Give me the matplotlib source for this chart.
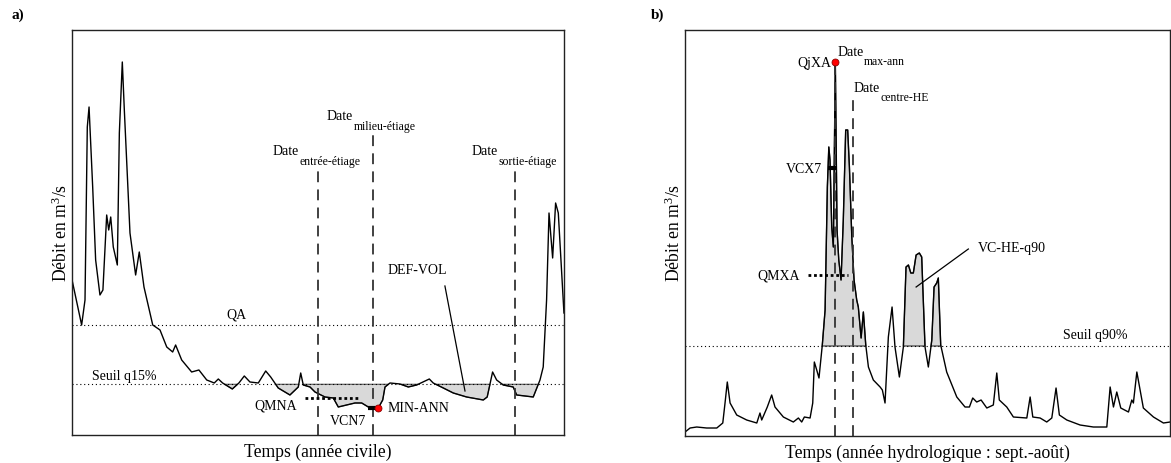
import matplotlib.pyplot as plt
import numpy as np

plt.rcParams['font.family'] = 'Liberation Serif'
plt.rcParams['mathtext.fontset'] = 'custom'
plt.rcParams['mathtext.rm'] = 'Liberation Serif'
plt.rcParams['mathtext.it'] = 'Liberation Serif:italic'

# a) civil year (day of year, discharge)
day_a = [0, 6.8, 9.3, 11.0, 12.3, 15.0, 17.2, 20.4, 22.6, 25.4, 26.9, 28.4, 30.3, 33.3,
         34.8, 37.0, 38.5, 42.7, 46.9, 49.6, 53.1, 59.6, 65.0, 70.0, 74.4, 76.6, 81.1,
         88.5, 93.9, 99.7, 105.3, 108.3, 111.5, 118.7, 123.6, 127.6, 131.8, 138.0, 143.5,
         147.2, 152.8, 161.5, 167.7, 169.5, 171.4, 176.4, 180.1, 187.5, 193.7, 197.4,
         203.6, 209.8, 214.8, 219.7, 227.1, 230.4, 232.1, 235.8, 243.2, 249.4, 255.6,
         265.0, 267.9, 275.4, 282.8, 292.7, 305.1, 308.0, 312.0, 315.0, 319.9, 327.3,
         329.9, 342.2, 347.2, 349.6, 352.1, 353.9, 356.6, 358.8, 360.8, 365.0]
q_a = [15.3, 11.0, 13.5, 30.8, 32.8, 24.8, 17.5, 14.0, 14.5, 22.0, 20.5, 21.8, 18.8, 17.0,
       30.2, 37.3, 32.5, 20.2, 16.0, 18.3, 14.8, 11.0, 10.5, 8.8, 8.3, 9.0, 7.5,
       6.3, 6.5, 5.5, 5.2, 5.6, 5.2, 4.6, 5.2, 5.9, 5.3, 5.2, 6.4,
       5.8, 4.7, 4.0, 4.8, 6.2, 5.0, 4.8, 4.3, 3.8, 3.7, 2.8,
       3.0, 3.2, 3.2, 2.8, 2.7, 3.5, 4.8, 5.2, 5.1, 4.8, 5.0,
       5.6, 5.2, 4.7, 4.2, 3.8, 3.5, 3.8, 6.3, 5.5, 5.0, 4.8,
       4.0, 3.8, 5.5, 6.8, 13.5, 22.2, 17.7, 23.2, 22.2, 12.2]
qa = 11.0
q15 = 5.07
qmna = 3.7
qmna_days = [173.0, 213.5]
vcn7 = 2.7
vcn7_days = [219.7, 227.1]
min_ann = [227.1, 2.7]
date_entree = 182.5
date_milieu = 223.4
date_sortie = 328.6

# b) hydrological year sept.-aout
day_b = [0, 3.8, 8.8, 16.3, 23.9, 28.4, 30.1, 31.8, 33.9, 38.9, 46.4, 54.0, 56.4, 57.7,
         61.9, 65.2, 67.7, 74.0, 81.5, 85.3, 87.8, 89.8, 94.1, 96.1, 97.3, 99.1, 100.8,
         103.3, 105.4, 107.1, 108.2, 109.1, 110.4, 111.6, 113.1, 114.4, 115.7, 117.4,
         119.1, 120.9, 122.4, 123.7, 125.5, 127.2, 129.2, 130.4, 132.5, 134.2, 136.0,
         138.0, 141.7, 146.8, 148.5, 150.5, 153.0, 155.8, 158.0, 161.3, 164.3, 166.3,
         168.1, 169.9, 171.8, 173.9, 176.3, 178.1, 180.6, 183.1, 185.7, 187.4, 189.4,
         190.6, 192.4, 196.9, 204.5, 210.7, 214.0, 216.5, 219.5, 222.8, 227.1, 232.0,
         234.6, 236.5, 242.1, 247.1, 257.2, 259.7, 261.7, 267.2, 272.2, 276.0, 279.2,
         281.7, 287.3, 297.3, 307.3, 317.4, 319.9, 322.4, 324.9, 327.9, 333.7, 336.2,
         337.4, 340.0, 344.9, 352.5, 360.0, 365.0]
q_b = [0.4, 0.8, 0.9, 0.8, 0.8, 1.3, 3.3, 5.4, 3.3, 2.1, 1.6, 1.3, 2.3, 1.6,
       2.9, 4.1, 2.9, 1.9, 1.4, 1.8, 1.4, 1.9, 1.8, 3.3, 7.4, 6.6, 5.8,
       9.1, 12.6, 24.9, 28.9, 27.6, 20.9, 18.9, 37.4, 20.6, 17.6, 15.6,
       21.6, 30.6, 30.6, 26.9, 19.9, 15.6, 13.6, 12.9, 9.8, 12.4, 9.1,
       6.9, 5.6, 4.9, 4.6, 3.3, 9.9, 12.9, 8.9, 5.9, 8.9, 16.9,
       17.1, 16.3, 16.3, 18.1, 18.3, 17.9, 8.9, 6.9, 9.6, 14.9, 15.3,
       15.8, 9.1, 6.4, 3.9, 2.9, 2.9, 3.8, 3.4, 3.6, 2.8, 3.1,
       6.3, 3.6, 2.9, 1.9, 1.8, 3.9, 1.9, 1.8, 1.4, 1.8, 4.8,
       2.1, 1.6, 1.1, 0.9, 0.9, 4.9, 2.9, 4.4, 2.8, 2.4, 3.6,
       3.3, 6.4, 2.8, 1.9, 1.3, 1.4]
q90 = 9.0
he_periods = [[103.0, 137.0], [164.0, 193.0]]
qjxa = [113.1, 37.4]
date_centre = 126.4
vcx7 = 26.8
vcx7_days = [107.9, 114.2]
qmxa = 16.1
qmxa_days = [92.8, 122.9]

txt_size = 10
lab_size = 12.7
fill_col = '#d9d9d9'
dash_col = '#333333'


def date_label(ax, x, y, sub):
    t = ax.text(x, y, 'Date', fontsize=txt_size, ha='left', va='center')
    ax.annotate(sub, xy=(1, 0.22), xycoords=t, xytext=(0.5, 0), textcoords='offset points',
                ha='left', va='top', fontsize=8.5)


def frame(ax, xlabel):
    ax.set_xticks([])
    ax.set_yticks([])
    for s in ax.spines.values():
        s.set_color('#222222')
        s.set_linewidth(1.0)
    ax.set_xlabel(xlabel, fontsize=lab_size, labelpad=6)
    ax.set_ylabel(r'Débit en m$^{3}$/s', fontsize=lab_size, labelpad=1)


fig = plt.figure(figsize=(11.71, 4.63), dpi=100)

# ---- panel a
ax1 = fig.add_axes([0.0619, 0.0605, 0.4197, 0.8747])
x = np.array(day_a)
y = np.array(q_a)
ax1.fill_between(x, y, q15, where=y < q15, interpolate=True, facecolor=fill_col,
                 edgecolor='#555555', linewidth=0.8)
ax1.axhline(qa, color='k', ls=(0, (1, 2.5)), lw=0.8)
ax1.axhline(q15, color='k', ls=(0, (1, 2.5)), lw=0.8)
ax1.plot(x, y, color='k', lw=1.0)
ax1.plot([date_entree, date_entree], [0, 27.0], color=dash_col, ls=(0, (6, 4)), lw=1.3)
ax1.plot([date_milieu, date_milieu], [0, 30.5], color=dash_col, ls=(0, (6, 4)), lw=1.3)
ax1.plot([date_sortie, date_sortie], [0, 27.0], color=dash_col, ls=(0, (6, 4)), lw=1.3)
ax1.plot(qmna_days, [qmna, qmna], color='k', ls=(0, (1, 1)), lw=2.0)
ax1.plot(vcn7_days, [vcn7, vcn7], color='k', lw=3.0, solid_capstyle='butt')
ax1.plot(min_ann[0], min_ann[1], 'o', color='red', mec='#880000', ms=5, mew=0.6)

date_label(ax1, 148.7, 28.3, 'entrée-étiage')
date_label(ax1, 189.0, 31.8, 'milieu-étiage')
date_label(ax1, 296.4, 28.3, 'sortie-étiage')
ax1.text(122, 11.3, 'QA', fontsize=txt_size, ha='center', va='bottom')
ax1.text(14.5, 5.8, 'Seuil q15%', fontsize=txt_size, ha='left', va='center')
ax1.text(166.7, 2.9, 'QMNA', fontsize=txt_size, ha='right', va='center')
ax1.text(204.6, 1.3, 'VCN7', fontsize=txt_size, ha='center', va='center')
ax1.text(234.0, 2.6, 'MIN-ANN', fontsize=txt_size, ha='left', va='center')
ax1.text(234.3, 16.4, 'DEF-VOL', fontsize=txt_size, ha='left', va='center')
ax1.plot([276.6, 291.5], [14.9, 4.4], color='k', lw=0.9)
ax1.set_xlim(0, 365)
ax1.set_ylim(0, 40.5)
frame(ax1, 'Temps (année civile)')

# ---- panel b
ax2 = fig.add_axes([0.585, 0.0583, 0.4142, 0.8769])
x = np.array(day_b)
y = np.array(q_b)
in_he = np.zeros(len(x), dtype=bool)
for p in he_periods:
    in_he |= (x >= p[0]) & (x <= p[1])
ax2.fill_between(x, y, q90, where=(y > q90) & in_he, interpolate=True, facecolor=fill_col,
                 edgecolor='#444444', linewidth=0.9)
ax2.axhline(q90, color='k', ls=(0, (1, 2.5)), lw=0.8)
ax2.plot(x, y, color='k', lw=1.0)
ax2.plot([qjxa[0], qjxa[0]], [0, qjxa[1]], color=dash_col, ls=(0, (6, 4)), lw=1.3)
ax2.plot([date_centre, date_centre], [0, 34.0], color=dash_col, ls=(0, (6, 4)), lw=1.3)
ax2.plot(vcx7_days, [vcx7, vcx7], color='k', lw=3.0, solid_capstyle='butt')
ax2.plot(qmxa_days, [qmxa, qmxa], color='k', ls=(0, (1, 1)), lw=2.0)
ax2.plot(qjxa[0], qjxa[1], 'o', color='red', mec='#880000', ms=5, mew=0.6, zorder=5)

ax2.text(110.0, 37.3, 'QjXA', fontsize=txt_size, ha='right', va='center')
date_label(ax2, 114.4, 38.4, 'max-ann')
date_label(ax2, 126.7, 34.8, 'centre-HE')
ax2.text(102.9, 26.7, 'VCX7', fontsize=txt_size, ha='right', va='center')
ax2.text(86.5, 16.0, 'QMXA', fontsize=txt_size, ha='right', va='center')
ax2.text(220.7, 18.8, 'VC-HE-q90', fontsize=txt_size, ha='left', va='center')
ax2.plot([213.2, 173.9], [18.7, 14.9], color='k', lw=0.9)
ax2.text(284.7, 10.1, 'Seuil q90%', fontsize=txt_size, ha='left', va='center')
ax2.set_xlim(0, 365)
ax2.set_ylim(0, 40.6)
frame(ax2, 'Temps (année hydrologique : sept.-août)')

fig.text(0.010, 0.967, 'a)', fontsize=11, fontweight='bold', va='center')
fig.text(0.556, 0.967, 'b)', fontsize=11, fontweight='bold', va='center')

fig.savefig('out.png', dpi=100)
